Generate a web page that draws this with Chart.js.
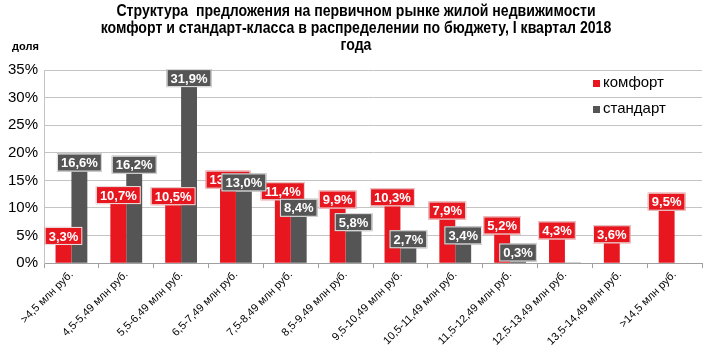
<!DOCTYPE html>
<html>
<head>
<meta charset="utf-8">
<script src="https://cdn.jsdelivr.net/npm/chart.js@4"></script>
<style>
  html, body { margin: 0; padding: 0; background: #fff; }
  #wrap { width: 709px; height: 359px; position: relative; }
</style>
</head>
<body>
<div id="wrap"><canvas id="chart" width="709" height="359"></canvas></div>
<script>
// budget bands
const categories = ['>4,5 млн руб.', '4,5-5,49 млн руб.', '5,5-6,49 млн руб.', '6,5-7,49 млн руб.',
    '7,5-8,49 млн руб.', '8,5-9,49 млн руб.', '9,5-10,49 млн руб.', '10,5-11,49 млн руб.',
    '11,5-12,49 млн руб.', '12,5-13,49 млн руб.', '13,5-14,49 млн руб.', '>14,5 млн руб.'];

const komfort  = [3.3, 10.7, 10.5, 13.5, 11.4, 9.9, 10.3, 7.9, 5.2, 4.3, 3.6, 9.5];
const standart = [16.6, 16.2, 31.9, 13.0, 8.4, 5.8, 2.7, 3.4, 0.3, 0.1, null, null];
// labels Excel shows (none on the tiny 12,5-13,49 bar)
const showStandartLabel = [true, true, true, true, true, true, true, true, true, false, false, false];

const titleLines = ['Структура  предложения на первичном рынке жилой недвижимости',
    'комфорт и стандарт-класса в распределении по бюджету, I квартал 2018',
    'года'];

const RED = '#e8161f';
const GRAY = '#555555';
const FONT = '"Liberation Sans", Arial, sans-serif';

function fmt(v) {
    return v.toFixed(1).replace('.', ',') + '%';
}

// boxed value labels sitting on top of each bar
const boxLabels = {
    id: 'boxLabels',
    afterDatasetsDraw(chart) {
        const ctx = chart.ctx;
        ctx.save();
        ctx.font = 'bold 13px ' + FONT;
        ctx.textAlign = 'center';
        ctx.textBaseline = 'middle';
        chart.data.datasets.forEach((ds, di) => {
            const meta = chart.getDatasetMeta(di);
            meta.data.forEach((bar, i) => {
                const v = ds.data[i];
                if (v == null) return;
                if (di === 1 && !showStandartLabel[i]) return;
                const txt = fmt(v);
                const w = ctx.measureText(txt).width + 8;
                const h = 18;
                const x = bar.x - w / 2;
                const y = bar.y - h;
                ctx.fillStyle = ds.backgroundColor;
                ctx.fillRect(x, y, w, h);
                ctx.strokeStyle = '#e8e8e8';
                ctx.lineWidth = 1;
                ctx.strokeRect(x + 0.5, y + 0.5, w - 1, h - 1);
                ctx.fillStyle = '#fff';
                ctx.fillText(txt, bar.x, y + h / 2 + 1);
            });
        });
        ctx.restore();
    }
};

// title, axis caption and legend drawn as text
const extras = {
    id: 'extras',
    afterDraw(chart) {
        const ctx = chart.ctx;
        ctx.save();
        ctx.fillStyle = '#000';
        ctx.textAlign = 'center';
        ctx.textBaseline = 'middle';
        ctx.font = 'bold 16px ' + FONT;
        titleLines.forEach((t, i) => {
            ctx.save();
            ctx.translate(356, 12 + i * 17);
            ctx.scale(0.88, 1);
            ctx.fillText(t, 0, 0);
            ctx.restore();
        });

        ctx.textAlign = 'left';
        ctx.font = 'bold 11px ' + FONT;
        ctx.fillText('доля', 12, 47);

        ctx.font = '15px ' + FONT;
        ctx.fillStyle = RED;
        ctx.fillRect(593, 80, 7, 7);
        ctx.fillStyle = GRAY;
        ctx.fillRect(593, 106, 7, 7);
        ctx.fillStyle = '#000';
        ctx.fillText('комфорт', 603, 83);
        ctx.fillText('стандарт', 603, 109);
        ctx.restore();
    }
};

new Chart(document.getElementById('chart'), {
    type: 'bar',
    data: {
        labels: categories,
        datasets: [
            { label: 'комфорт', data: komfort, backgroundColor: RED,
              barPercentage: 1.0, categoryPercentage: 0.58 },
            { label: 'стандарт', data: standart, backgroundColor: GRAY,
              barPercentage: 1.0, categoryPercentage: 0.58 }
        ]
    },
    options: {
        responsive: false,
        animation: false,
        layout: { padding: { top: 70, right: 7, left: 2, bottom: 11 } },
        plugins: {
            legend: { display: false },
            title: { display: false },
            tooltip: { enabled: false }
        },
        scales: {
            x: {
                offset: true,
                grid: { display: true, drawOnChartArea: false, offset: true,
                        color: '#a0a0a0', tickLength: 5 },
                border: { color: '#a0a0a0' },
                ticks: { color: '#000', font: { family: FONT, size: 11 },
                         minRotation: 45, maxRotation: 45, autoSkip: false, padding: 0 }
            },
            y: {
                min: 0, max: 35,
                ticks: { stepSize: 5, color: '#000', font: { family: FONT, size: 15 },
                         padding: 6, callback: v => v + '%' },
                grid: { color: '#c4c4c4', drawTicks: false },
                border: { color: '#c4c4c4' }
            }
        }
    },
    plugins: [boxLabels, extras]
});
</script>
</body>
</html>
